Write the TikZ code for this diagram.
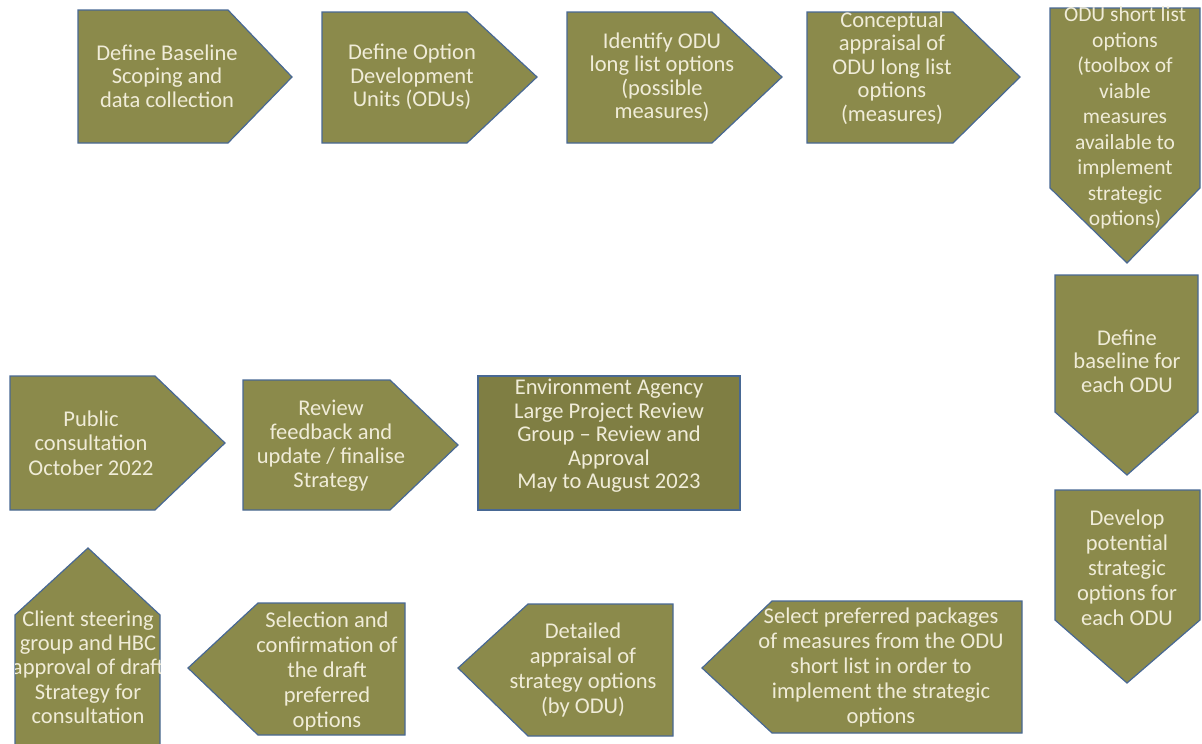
\documentclass[tikz,border=0pt]{standalone}
\usepackage{fontspec}
\setmainfont{Carlito}
\definecolor{olivefill}{RGB}{139,138,75}
\definecolor{olivedark}{RGB}{127,126,67}
\definecolor{edgeblue}{RGB}{72,104,148}
\definecolor{creamtext}{RGB}{240,236,216}
\newcommand\stepfont{\fontsize{22.5}{23.5}\selectfont}
\tikzset{
  stepshape/.style={fill=olivefill, draw=edgeblue, line width=1.2pt, line join=miter},
  stepbox/.style={fill=olivedark, draw=edgeblue, line width=1.2pt},
  steptext/.style={text=creamtext, align=center, font=\stepfont, inner sep=0pt},
}
\begin{document}
\begin{tikzpicture}[x=1pt,y=-1pt]
\useasboundingbox (0,0) rectangle (1202,744);
\clip (0,0) rectangle (1202,744);

% top row
\draw[stepshape] (78,10) -- (228,10) -- (292,77) -- (228,143) -- (78,143) -- cycle;
\node[steptext] (s1) at (167,76) {Define Baseline\\Scoping and\\data collection};

\draw[stepshape] (322,12) -- (467,12) -- (537,77) -- (467,143) -- (322,143) -- cycle;
\node[steptext] (s2) at (412,77) {Define Option\\Development\\Units (ODUs)};

\draw[stepshape] (567,12) -- (712,12) -- (782,77) -- (712,143) -- (567,143) -- cycle;
\node[steptext] (s3) at (662,77) {Identify ODU\\long list options\\(possible\\measures)};

\draw[stepshape] (807,12) -- (953,12) -- (1020,77) -- (953,143) -- (807,143) -- cycle;
\node[steptext] (s4) at (892,68) {Conceptual\\appraisal of\\ODU long list\\options\\(measures)};

% right column
\draw[stepshape] (1050,8) -- (1200,8) -- (1200,188) -- (1127,263) -- (1050,188) -- cycle;
\node[steptext, font=\fontsize{21.5}{25.5}\selectfont] (s5) at (1125,118) {ODU short list\\options\\(toolbox of\\viable\\measures\\available to\\implement\\strategic\\options)};

\draw[stepshape] (1055,275) -- (1198,275) -- (1198,412) -- (1127,475) -- (1055,412) -- cycle;
\node[steptext] (s6) at (1127,361) {Define\\baseline for\\each ODU};

\draw[stepshape] (1055,490) -- (1200,490) -- (1200,620) -- (1127,683) -- (1055,620) -- cycle;
\node[steptext, font=\fontsize{22.5}{25}\selectfont] (s7) at (1127,568) {Develop\\potential\\strategic\\options for\\each ODU};

% bottom row (right to left)
\draw[stepshape] (702,668) -- (772,601) -- (1022,601) -- (1022,733) -- (772,733) -- cycle;
\node[steptext, font=\fontsize{22.5}{25}\selectfont] (s8) at (881,667) {Select preferred packages\\of measures from the ODU\\short list in order to\\implement the strategic\\options};

\draw[stepshape] (458,668) -- (528,604) -- (673,604) -- (673,736) -- (528,736) -- cycle;
\node[steptext, font=\fontsize{22.5}{25}\selectfont] (s9) at (583,670) {Detailed\\appraisal of\\strategy options\\(by ODU)};

\draw[stepshape] (188,668) -- (258,603) -- (405,603) -- (405,735) -- (258,735) -- cycle;
\node[steptext, font=\fontsize{22.5}{25}\selectfont] (s10) at (327,671) {Selection and\\confirmation of\\the draft\\preferred\\options};

\begin{scope}
\draw[stepshape] (15,750) -- (15,615) -- (88,548) -- (160,615) -- (160,750) -- cycle;
\clip (15,750) -- (15,615) -- (88,548) -- (160,615) -- (160,750) -- cycle;
\node[steptext, font=\fontsize{22.5}{24.3}\selectfont] (s11) at (88,667) {Client steering\\group and HBC\\approval of draft\\Strategy for\\consultation};
\end{scope}

% middle row
\draw[stepshape] (10,376) -- (155,376) -- (225,443) -- (155,510) -- (10,510) -- cycle;
\node[steptext, font=\fontsize{22.5}{24.5}\selectfont] (s12) at (91,443) {Public\\consultation\\October 2022};

\draw[stepshape] (243,380) -- (390,380) -- (458,445) -- (390,510) -- (243,510) -- cycle;
\node[steptext, font=\fontsize{22.5}{24}\selectfont] (s13) at (331,446) {Review\\feedback and\\update / finalise\\Strategy};

\draw[stepbox] (478,376) rectangle (740,510);
\node[steptext, font=\fontsize{22.5}{23.5}\selectfont] (s14) at (609,436) {Environment Agency\\Large Project Review\\Group – Review and\\Approval\\May to August 2023};
\end{tikzpicture}
\end{document}
